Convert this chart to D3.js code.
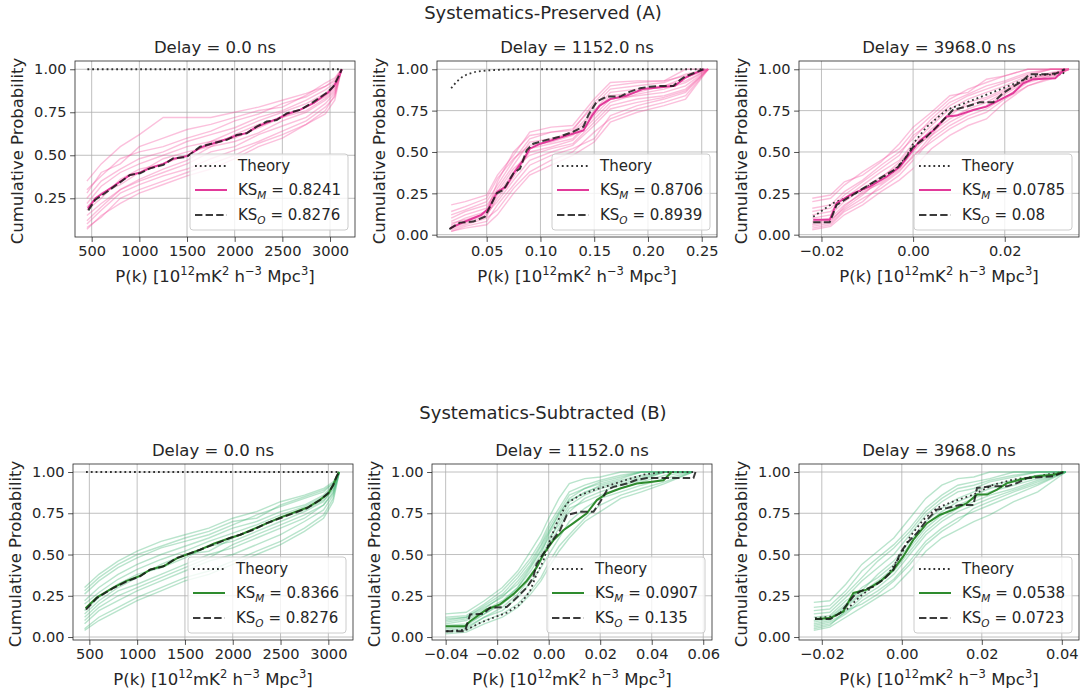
<!DOCTYPE html>
<html>
<head>
<meta charset="utf-8">
<script src="https://cdn.jsdelivr.net/npm/d3@7"></script>
<style>
  html, body { margin: 0; padding: 0; background: #fff; }
  svg text { font-family: "DejaVu Sans", sans-serif; fill: #262626; }
</style>
</head>
<body>
<svg id="fig" width="1083" height="692"></svg>
<script>
// ---------------- data ----------------
const rowTitles = ["Systematics-Preserved (A)", "Systematics-Subtracted (B)"];
const delayTitles = ["Delay = 0.0 ns", "Delay = 1152.0 ns", "Delay = 3968.0 ns"];
const ksModel = ["0.8241", "0.8706", "0.0785", "0.8366", "0.0907", "0.0538"];
const ksObserved = ["0.8276", "0.8939", "0.08", "0.8276", "0.135", "0.0723"];

// tick values
const xTicksA0 = [500, 1000, 1500, 2000, 2500, 3000];
const xTicksA1 = [0.05, 0.10, 0.15, 0.20, 0.25];
const xTicksA2 = [-0.02, 0.00, 0.02];
const xTicksB0 = [500, 1000, 1500, 2000, 2500, 3000];
const xTicksB1 = [-0.04, -0.02, 0.00, 0.02, 0.04, 0.06];
const xTicksB2 = [-0.02, 0.00, 0.02, 0.04];
const yTicksA0 = [0.25, 0.50, 0.75, 1.00];
const yTicksFull = [0.00, 0.25, 0.50, 0.75, 1.00];

// A0: delay 0 ns, systematics preserved
const theoryA0 = [[455, 1.0], [3125, 1.0]];
const modelA0 = [[460,0.19],[540,0.25],[700,0.31],[900,0.385],[1010,0.40],[1110,0.425],[1250,0.45],[1360,0.48],[1500,0.495],[1640,0.545],[1780,0.57],[1920,0.595],[2020,0.615],[2130,0.63],[2230,0.665],[2340,0.69],[2440,0.71],[2550,0.74],[2690,0.765],[2830,0.805],[2980,0.865],[3040,0.90],[3090,0.95],[3125,1.0]];
const obsA0 = [[465,0.18],[535,0.24],[692,0.30],[902,0.386],[1007,0.395],[1112,0.424],[1252,0.444],[1357,0.483],[1497,0.49],[1637,0.55],[1777,0.57],[1917,0.59],[2022,0.618],[2126,0.628],[2231,0.667],[2336,0.696],[2441,0.705],[2546,0.744],[2686,0.764],[2826,0.81],[2983,0.87],[3035,0.90],[3088,0.957],[3123,1.0]];
const ensGridA0 = [450, 600, 800, 1000, 1250, 1500, 1750, 2000, 2250, 2500, 2750, 2950, 3050, 3120];
const ensA0 = [
  [0.07,0.15,0.22,0.28,0.33,0.38,0.42,0.48,0.55,0.60,0.68,0.76,0.85,1.0],
  [0.35,0.45,0.55,0.62,0.72,0.72,0.72,0.75,0.78,0.82,0.86,0.90,0.93,1.0],
  [0.12,0.20,0.30,0.35,0.40,0.45,0.52,0.55,0.62,0.67,0.72,0.80,0.86,1.0],
  [0.25,0.35,0.42,0.48,0.52,0.58,0.62,0.66,0.72,0.76,0.82,0.88,0.92,1.0],
  [0.10,0.18,0.28,0.33,0.38,0.42,0.48,0.53,0.58,0.64,0.70,0.78,0.84,1.0],
  [0.30,0.38,0.48,0.52,0.55,0.60,0.64,0.70,0.74,0.80,0.84,0.90,0.94,1.0],
  [0.20,0.28,0.33,0.40,0.48,0.52,0.55,0.62,0.68,0.72,0.76,0.83,0.88,1.0],
  [0.15,0.22,0.30,0.36,0.42,0.47,0.55,0.58,0.63,0.70,0.75,0.82,0.87,1.0],
  [0.22,0.32,0.40,0.45,0.50,0.55,0.58,0.64,0.70,0.75,0.80,0.86,0.91,1.0],
  [0.08,0.14,0.25,0.30,0.35,0.40,0.45,0.50,0.57,0.62,0.68,0.74,0.82,1.0],
  [0.28,0.40,0.45,0.55,0.60,0.65,0.68,0.72,0.76,0.78,0.85,0.92,0.95,1.0],
  [0.18,0.25,0.36,0.42,0.45,0.50,0.58,0.60,0.66,0.72,0.78,0.84,0.89,1.0]
];

// A1: delay 1152 ns, systematics preserved
const theoryA1 = [[0.017,0.885],[0.022,0.925],[0.027,0.952],[0.032,0.97],[0.04,0.985],[0.05,0.993],[0.065,0.998],[0.08,1.0],[0.2515,1.0]];
const modelA1 = [[0.016,0.04],[0.03,0.08],[0.045,0.12],[0.052,0.16],[0.06,0.26],[0.068,0.29],[0.076,0.38],[0.084,0.45],[0.09,0.52],[0.10,0.55],[0.115,0.58],[0.13,0.61],[0.14,0.63],[0.148,0.72],[0.155,0.78],[0.165,0.82],[0.18,0.84],[0.195,0.88],[0.21,0.89],[0.225,0.90],[0.235,0.95],[0.245,0.98],[0.2525,1.0]];
const obsA1 = [[0.0153,0.034],[0.025,0.073],[0.0376,0.079],[0.0484,0.109],[0.0515,0.149],[0.0593,0.25],[0.0655,0.27],[0.0748,0.37],[0.081,0.40],[0.0872,0.51],[0.0934,0.55],[0.1058,0.573],[0.118,0.593],[0.1306,0.623],[0.14,0.653],[0.1446,0.724],[0.1523,0.804],[0.1616,0.835],[0.174,0.835],[0.1833,0.865],[0.1926,0.885],[0.202,0.895],[0.2112,0.899],[0.2236,0.899],[0.2298,0.935],[0.2345,0.956],[0.2422,0.976],[0.2515,1.0]];
const ensGridA1 = [0.017, 0.03, 0.05, 0.06, 0.075, 0.09, 0.11, 0.13, 0.15, 0.165, 0.19, 0.215, 0.235, 0.256];
const ensA1 = [
  [0.02,0.05,0.08,0.18,0.30,0.42,0.48,0.52,0.58,0.72,0.78,0.82,0.86,1.0],
  [0.18,0.20,0.24,0.36,0.48,0.62,0.65,0.66,0.82,0.92,0.93,0.93,1.0,1.0],
  [0.05,0.08,0.12,0.22,0.35,0.50,0.53,0.57,0.70,0.80,0.85,0.88,0.92,1.0],
  [0.08,0.12,0.16,0.28,0.42,0.56,0.58,0.62,0.75,0.86,0.88,0.90,0.95,1.0],
  [0.03,0.06,0.10,0.15,0.28,0.38,0.45,0.50,0.62,0.70,0.76,0.80,0.84,1.0],
  [0.12,0.15,0.20,0.30,0.45,0.58,0.62,0.64,0.78,0.88,0.90,0.92,0.97,1.0],
  [0.04,0.07,0.11,0.24,0.38,0.52,0.55,0.58,0.72,0.82,0.84,0.86,0.90,1.0],
  [0.10,0.14,0.18,0.26,0.40,0.48,0.52,0.55,0.68,0.78,0.82,0.84,0.88,1.0],
  [0.06,0.10,0.14,0.32,0.50,0.60,0.62,0.63,0.80,0.90,0.92,0.93,0.96,1.0],
  [0.02,0.04,0.06,0.12,0.25,0.36,0.42,0.48,0.56,0.68,0.74,0.78,0.82,1.0],
  [0.14,0.17,0.22,0.34,0.46,0.54,0.56,0.60,0.74,0.84,0.86,0.90,0.93,1.0],
  [0.07,0.09,0.13,0.20,0.33,0.45,0.50,0.54,0.66,0.76,0.80,0.83,0.87,1.0]
];

// A2: delay 3968 ns, systematics preserved
const theoryA2 = [[-0.0218,0.109],[-0.0175,0.19],[-0.0131,0.24],[-0.0087,0.31],[-0.0044,0.38],[-0.0015,0.47],[0,0.55],[0.0029,0.65],[0.0073,0.754],[0.0131,0.815],[0.0196,0.885],[0.024,0.935],[0.0276,0.966],[0.0327,0.97],[0.0331,1.0]];
const modelA2 = [[-0.0218,0.09],[-0.0182,0.09],[-0.0167,0.19],[-0.0131,0.25],[-0.0095,0.29],[-0.0058,0.35],[-0.0029,0.41],[-0.0007,0.49],[0.0015,0.57],[0.0044,0.63],[0.0073,0.714],[0.0095,0.72],[0.0131,0.754],[0.016,0.774],[0.0189,0.815],[0.0218,0.855],[0.024,0.915],[0.0262,0.94],[0.031,0.945],[0.0331,1.0]];
const obsA2 = [[-0.0218,0.075],[-0.0182,0.075],[-0.0167,0.18],[-0.0138,0.23],[-0.0109,0.28],[-0.0073,0.34],[-0.0036,0.40],[-0.0015,0.47],[0,0.53],[0.0029,0.59],[0.0058,0.67],[0.0087,0.754],[0.0116,0.774],[0.0145,0.80],[0.0175,0.80],[0.0196,0.855],[0.0218,0.895],[0.0236,0.925],[0.0255,0.97],[0.0291,0.97],[0.0313,0.976],[0.0331,1.0]];
const ensGridA2 = [-0.022, -0.018, -0.015, -0.011, -0.007, -0.003, 0, 0.004, 0.008, 0.012, 0.016, 0.02, 0.025, 0.03, 0.034];
const ensA2 = [
  [0.03,0.05,0.12,0.18,0.26,0.33,0.40,0.52,0.60,0.66,0.70,0.80,0.90,0.95,1.0],
  [0.20,0.22,0.30,0.38,0.45,0.52,0.62,0.72,0.82,0.88,0.92,0.96,1.0,1.0,1.0],
  [0.08,0.10,0.18,0.25,0.32,0.40,0.50,0.62,0.70,0.76,0.80,0.86,0.94,0.97,1.0],
  [0.12,0.14,0.22,0.30,0.38,0.45,0.55,0.66,0.76,0.82,0.86,0.90,0.96,1.0,1.0],
  [0.05,0.07,0.15,0.22,0.28,0.36,0.45,0.58,0.66,0.72,0.76,0.83,0.92,0.96,1.0],
  [0.16,0.18,0.26,0.33,0.42,0.50,0.58,0.70,0.80,0.85,0.90,0.93,0.98,1.0,1.0],
  [0.10,0.12,0.20,0.28,0.35,0.42,0.52,0.64,0.72,0.80,0.83,0.88,0.95,0.98,1.0],
  [0.04,0.06,0.14,0.20,0.30,0.38,0.48,0.56,0.64,0.70,0.74,0.82,0.90,0.94,1.0],
  [0.14,0.16,0.24,0.32,0.40,0.48,0.60,0.68,0.78,0.84,0.88,0.92,0.97,1.0,1.0],
  [0.07,0.09,0.16,0.24,0.34,0.44,0.53,0.60,0.68,0.74,0.78,0.85,0.93,0.96,1.0],
  [0.22,0.24,0.32,0.36,0.44,0.55,0.65,0.74,0.84,0.86,0.94,0.96,1.0,1.0,1.0],
  [0.06,0.08,0.17,0.26,0.31,0.39,0.47,0.60,0.74,0.78,0.82,0.87,0.94,0.97,1.0]
];

// B0: delay 0 ns, systematics subtracted
const theoryB0 = [[465, 1.0], [3115, 1.0]];
const modelB0 = [[460,0.175],[580,0.24],[750,0.30],[890,0.34],[1030,0.37],[1140,0.41],[1280,0.43],[1410,0.475],[1520,0.50],[1660,0.53],[1800,0.565],[1970,0.60],[2080,0.62],[2220,0.655],[2360,0.69],[2500,0.725],[2640,0.755],[2780,0.785],[2910,0.83],[3000,0.87],[3050,0.92],[3090,0.975],[3110,1.0]];
const obsB0 = [[465,0.166],[577,0.236],[751,0.297],[890,0.337],[1030,0.368],[1135,0.408],[1274,0.428],[1413,0.479],[1518,0.499],[1658,0.529],[1797,0.56],[1971,0.60],[2076,0.62],[2216,0.65],[2355,0.69],[2495,0.72],[2634,0.75],[2774,0.78],[2913,0.83],[3000,0.873],[3052,0.923],[3087,0.974],[3115,1.0]];
const ensGridB0 = [450, 600, 800, 1000, 1250, 1500, 1750, 2000, 2250, 2500, 2750, 2950, 3050, 3115];
const ensB0 = [
  [0.05,0.12,0.18,0.24,0.30,0.36,0.40,0.46,0.52,0.58,0.66,0.74,0.84,1.0],
  [0.30,0.38,0.46,0.52,0.58,0.62,0.66,0.72,0.76,0.82,0.86,0.90,0.94,1.0],
  [0.12,0.20,0.28,0.32,0.38,0.44,0.50,0.54,0.60,0.66,0.72,0.80,0.88,1.0],
  [0.22,0.30,0.38,0.44,0.50,0.55,0.60,0.66,0.70,0.76,0.80,0.86,0.92,1.0],
  [0.08,0.16,0.22,0.28,0.34,0.40,0.46,0.50,0.56,0.62,0.70,0.77,0.86,1.0],
  [0.26,0.34,0.42,0.48,0.54,0.58,0.62,0.68,0.74,0.79,0.84,0.88,0.93,1.0],
  [0.16,0.24,0.32,0.38,0.42,0.48,0.55,0.58,0.64,0.70,0.76,0.82,0.90,1.0],
  [0.10,0.18,0.25,0.30,0.36,0.42,0.48,0.56,0.62,0.68,0.74,0.80,0.87,1.0],
  [0.20,0.27,0.35,0.41,0.47,0.52,0.58,0.63,0.68,0.74,0.79,0.85,0.91,1.0],
  [0.14,0.22,0.30,0.36,0.44,0.50,0.52,0.60,0.66,0.72,0.77,0.83,0.89,1.0],
  [0.04,0.10,0.16,0.22,0.28,0.34,0.38,0.44,0.50,0.56,0.64,0.72,0.82,1.0],
  [0.28,0.36,0.44,0.50,0.55,0.60,0.64,0.70,0.72,0.80,0.85,0.89,0.93,1.0]
];

// B1: delay 1152 ns, systematics subtracted
const theoryB1 = [[-0.0396,0.035],[-0.0318,0.045],[-0.0266,0.086],[-0.0215,0.117],[-0.0163,0.147],[-0.0111,0.198],[-0.0072,0.28],[-0.0047,0.38],[-0.0021,0.46],[0,0.565],[0.0031,0.69],[0.007,0.81],[0.0122,0.86],[0.0174,0.89],[0.0238,0.92],[0.0303,0.953],[0.0368,0.984],[0.0433,0.998],[0.057,1.0]];
const modelB1 = [[-0.04,0.066],[-0.0325,0.066],[-0.0305,0.096],[-0.0241,0.167],[-0.0189,0.198],[-0.0137,0.26],[-0.0085,0.34],[-0.0047,0.42],[-0.0021,0.50],[0.0018,0.586],[0.0057,0.647],[0.0096,0.69],[0.0148,0.75],[0.0187,0.83],[0.0226,0.87],[0.0277,0.90],[0.0342,0.93],[0.0394,0.94],[0.0446,0.95],[0.0477,1.0]];
const obsB1 = [[-0.04,0.035],[-0.0325,0.035],[-0.0305,0.137],[-0.0253,0.141],[-0.0228,0.178],[-0.0163,0.182],[-0.0124,0.239],[-0.0085,0.30],[-0.006,0.36],[-0.0047,0.443],[-0.0021,0.504],[0.0005,0.565],[0.0044,0.647],[0.007,0.739],[0.0122,0.759],[0.0174,0.759],[0.02,0.82],[0.0226,0.89],[0.0251,0.91],[0.0303,0.93],[0.0342,0.953],[0.0381,0.963],[0.0562,0.963],[0.057,1.0]];
const ensGridB1 = [-0.04, -0.032, -0.025, -0.018, -0.012, -0.007, -0.003, 0, 0.004, 0.008, 0.014, 0.02, 0.028, 0.036, 0.045, 0.056];
const ensB1 = [
  [0.03,0.04,0.10,0.14,0.20,0.28,0.36,0.45,0.55,0.62,0.72,0.80,0.86,0.90,0.94,1.0],
  [0.14,0.15,0.22,0.30,0.40,0.52,0.62,0.72,0.84,0.93,0.96,0.97,1.0,1.0,1.0,1.0],
  [0.07,0.08,0.14,0.20,0.28,0.38,0.46,0.56,0.66,0.76,0.84,0.88,0.92,0.95,1.0,1.0],
  [0.10,0.12,0.18,0.24,0.34,0.44,0.55,0.64,0.74,0.84,0.90,0.93,0.96,1.0,1.0,1.0],
  [0.05,0.06,0.12,0.16,0.24,0.33,0.42,0.50,0.60,0.70,0.78,0.84,0.88,0.92,0.96,1.0],
  [0.12,0.13,0.20,0.28,0.38,0.48,0.58,0.68,0.78,0.88,0.92,0.95,0.98,1.0,1.0,1.0],
  [0.04,0.05,0.12,0.18,0.26,0.36,0.48,0.58,0.70,0.80,0.86,0.90,0.93,0.96,1.0,1.0],
  [0.08,0.10,0.16,0.22,0.30,0.40,0.50,0.62,0.72,0.82,0.88,0.91,0.94,0.97,1.0,1.0],
  [0.02,0.03,0.08,0.12,0.18,0.26,0.34,0.42,0.52,0.60,0.70,0.76,0.84,0.88,0.93,1.0],
  [0.11,0.12,0.19,0.26,0.36,0.46,0.56,0.66,0.76,0.86,0.90,0.94,0.97,1.0,1.0,1.0],
  [0.06,0.07,0.14,0.21,0.30,0.42,0.52,0.60,0.68,0.78,0.82,0.86,0.90,0.94,0.98,1.0],
  [0.09,0.11,0.17,0.25,0.32,0.43,0.53,0.63,0.75,0.83,0.87,0.92,0.95,0.98,1.0,1.0]
];

// B2: delay 3968 ns, systematics subtracted
const theoryB2 = [[-0.0217,0.115],[-0.0171,0.125],[-0.0138,0.166],[-0.0104,0.247],[-0.0071,0.307],[-0.0038,0.368],[-0.0004,0.49],[0.0021,0.61],[0.0054,0.711],[0.0088,0.782],[0.0129,0.822],[0.0179,0.863],[0.0229,0.923],[0.0279,0.954],[0.0338,0.974],[0.0404,1.0]];
const modelB2 = [[-0.0217,0.109],[-0.0179,0.115],[-0.0146,0.155],[-0.0121,0.267],[-0.0088,0.287],[-0.0054,0.337],[-0.0021,0.408],[0.0004,0.49],[0.0029,0.59],[0.0063,0.69],[0.0096,0.741],[0.0129,0.772],[0.0163,0.812],[0.0188,0.863],[0.0213,0.863],[0.0238,0.893],[0.0263,0.933],[0.0296,0.954],[0.0338,0.974],[0.0379,0.984],[0.0404,1.0]];
const obsB2 = [[-0.0217,0.109],[-0.0179,0.109],[-0.0154,0.145],[-0.0121,0.247],[-0.0104,0.277],[-0.0071,0.307],[-0.0046,0.348],[-0.0021,0.408],[-0.0004,0.509],[0.0013,0.57],[0.0038,0.63],[0.0063,0.711],[0.0088,0.772],[0.0113,0.782],[0.0146,0.80],[0.0179,0.80],[0.0188,0.903],[0.0221,0.913],[0.0263,0.913],[0.0288,0.933],[0.0313,0.964],[0.0379,0.974],[0.0404,1.0]];
const ensGridB2 = [-0.022, -0.018, -0.014, -0.01, -0.006, -0.002, 0.002, 0.006, 0.01, 0.014, 0.018, 0.022, 0.028, 0.034, 0.041];
const ensB2 = [
  [0.04,0.06,0.12,0.18,0.24,0.30,0.40,0.52,0.60,0.65,0.70,0.74,0.82,0.88,1.0],
  [0.21,0.22,0.32,0.44,0.52,0.60,0.72,0.84,0.92,0.96,0.97,1.0,1.0,1.0,1.0],
  [0.08,0.10,0.18,0.26,0.32,0.40,0.52,0.64,0.72,0.78,0.82,0.86,0.90,0.95,1.0],
  [0.14,0.15,0.24,0.34,0.42,0.50,0.62,0.74,0.82,0.88,0.90,0.94,0.97,1.0,1.0],
  [0.06,0.08,0.14,0.22,0.28,0.35,0.46,0.58,0.66,0.72,0.76,0.80,0.86,0.92,1.0],
  [0.18,0.19,0.28,0.40,0.48,0.56,0.66,0.78,0.86,0.92,0.94,0.96,1.0,1.0,1.0],
  [0.10,0.12,0.20,0.30,0.36,0.44,0.56,0.68,0.76,0.82,0.86,0.90,0.94,0.97,1.0],
  [0.12,0.13,0.22,0.28,0.38,0.46,0.58,0.70,0.78,0.84,0.88,0.92,0.95,0.98,1.0],
  [0.05,0.07,0.16,0.20,0.26,0.34,0.44,0.56,0.64,0.70,0.78,0.82,0.88,0.93,1.0],
  [0.16,0.17,0.26,0.36,0.46,0.54,0.64,0.76,0.84,0.90,0.92,0.95,0.98,1.0,1.0],
  [0.09,0.11,0.19,0.27,0.34,0.42,0.54,0.66,0.74,0.80,0.84,0.88,0.92,0.96,1.0],
  [0.07,0.09,0.15,0.24,0.30,0.38,0.50,0.62,0.70,0.76,0.80,0.84,0.89,0.94,1.0]
];

// ---------------- layout & styles ----------------
const palette = {
  A: { main: "#e23a9a", faint: "#f4509f" },
  B: { main: "#2e8b2e", faint: "#3cb371" }
};
const FONT = 14.6;        // tick labels
const LEGEND_FONT = 15;   // legend entries
const LABEL_FONT = 16.5;  // axis labels and titles
const HEAD_FONT = 18;     // row headings

const panels = [
  { row: "A", col: 0, x0: 75,  x1: 355,  y0: 61,  y1: 237, xd: [325, 3262],        yd: [0.025, 1.048],
    xTicks: xTicksA0, yTicks: yTicksA0, xFmt: d3.format("d"),
    theory: theoryA0, model: modelA0, obs: obsA0, grid: ensGridA0, members: ensA0 },
  { row: "A", col: 1, x0: 437, x1: 717,  y0: 61,  y1: 237, xd: [0.0038, 0.2642],   yd: [-0.014, 1.05],
    xTicks: xTicksA1, yTicks: yTicksFull, xFmt: d3.format(".2f"),
    theory: theoryA1, model: modelA1, obs: obsA1, grid: ensGridA1, members: ensA1 },
  { row: "A", col: 2, x0: 799, x1: 1079, y0: 61,  y1: 237, xd: [-0.0249, 0.0362],  yd: [-0.014, 1.05],
    xTicks: xTicksA2, yTicks: yTicksFull, xFmt: d3.format(".2f"),
    theory: theoryA2, model: modelA2, obs: obsA2, grid: ensGridA2, members: ensA2 },
  { row: "B", col: 0, x0: 73,  x1: 353,  y0: 464, y1: 640, xd: [329, 3258],        yd: [-0.018, 1.0485],
    xTicks: xTicksB0, yTicks: yTicksFull, xFmt: d3.format("d"),
    theory: theoryB0, model: modelB0, obs: obsB0, grid: ensGridB0, members: ensB0 },
  { row: "B", col: 1, x0: 432, x1: 712,  y0: 464, y1: 640, xd: [-0.0453, 0.0634],  yd: [-0.018, 1.0485],
    xTicks: xTicksB1, yTicks: yTicksFull, xFmt: d3.format(".2f"),
    theory: theoryB1, model: modelB1, obs: obsB1, grid: ensGridB1, members: ensB1 },
  { row: "B", col: 2, x0: 799, x1: 1079, y0: 464, y1: 640, xd: [-0.0257, 0.0443],  yd: [-0.018, 1.0485],
    xTicks: xTicksB2, yTicks: yTicksFull, xFmt: d3.format(".2f"),
    theory: theoryB2, model: modelB2, obs: obsB2, grid: ensGridB2, members: ensB2 }
];

const THEORY_STYLE = { stroke: "#333333", width: 1.8, dash: "1.8,3" };

const svg = d3.select("#fig");
const defs = svg.append("defs");

// row headings
svg.append("text").attr("x", 543).attr("y", 19).attr("text-anchor", "middle")
  .attr("font-size", HEAD_FONT).text(rowTitles[0]);
svg.append("text").attr("x", 543).attr("y", 419).attr("text-anchor", "middle")
  .attr("font-size", HEAD_FONT).text(rowTitles[1]);

// P(k) [10^12 mK^2 h^-3 Mpc^3] with raised exponents
function addPkLabel(sel) {
  const sup = (t) => sel.append("tspan").attr("dy", -7).attr("font-size", 11.5).text(t);
  const base = (t) => sel.append("tspan").attr("dy", 7).text(t);
  sel.append("tspan").text("P(k) [10");
  sup("12"); base("mK");
  sup("2"); base(" h");
  sup("\u22123"); base(" Mpc");
  sup("3"); base("]");
}

// KS label with italic subscript
function addKsLabel(sel, sub, value) {
  sel.append("tspan").text("KS");
  sel.append("tspan").attr("dy", 3.5).attr("font-size", 10.5).attr("font-style", "italic").text(sub);
  sel.append("tspan").attr("dy", -3.5).text(" = " + value);
}

panels.forEach((p, i) => {
  const col = palette[p.row];
  const x = d3.scaleLinear().domain(p.xd).range([p.x0, p.x1]);
  const y = d3.scaleLinear().domain(p.yd).range([p.y1, p.y0]);
  const g = svg.append("g");

  const clipId = "plotclip" + i;
  defs.append("clipPath").attr("id", clipId).append("rect")
    .attr("x", p.x0).attr("y", p.y0).attr("width", p.x1 - p.x0).attr("height", p.y1 - p.y0);

  // grid
  const grid = g.append("g").attr("stroke", "#b0b0b0").attr("stroke-width", 0.8);
  grid.selectAll("line.vx").data(p.xTicks).join("line").attr("class", "vx")
    .attr("x1", d => x(d)).attr("x2", d => x(d)).attr("y1", p.y0).attr("y2", p.y1);
  grid.selectAll("line.hy").data(p.yTicks).join("line").attr("class", "hy")
    .attr("x1", p.x0).attr("x2", p.x1).attr("y1", d => y(d)).attr("y2", d => y(d));

  const plot = g.append("g").attr("clip-path", `url(#${clipId})`);
  const line = d3.line().x(d => x(d[0])).y(d => y(d[1]));

  // ensemble of realisation CDFs
  plot.selectAll("path.member").data(p.members).join("path").attr("class", "member")
    .attr("d", m => line(p.grid.map((gx, k) => [gx, m[k]])))
    .attr("fill", "none").attr("stroke", col.faint)
    .attr("stroke-opacity", 0.36).attr("stroke-width", 1.4);

  // theory CDF
  plot.append("path").attr("d", line(p.theory)).attr("fill", "none")
    .attr("stroke", THEORY_STYLE.stroke).attr("stroke-width", THEORY_STYLE.width)
    .attr("stroke-dasharray", THEORY_STYLE.dash);
  // model (median) CDF
  plot.append("path").attr("d", line(p.model)).attr("fill", "none")
    .attr("stroke", col.main).attr("stroke-width", 2);
  // observed CDF
  plot.append("path").attr("d", line(p.obs)).attr("fill", "none")
    .attr("stroke", "#1a1a1a").attr("stroke-opacity", 0.85)
    .attr("stroke-width", 2).attr("stroke-dasharray", "7.4,3.2");

  // axes
  const xAxis = g.append("g").attr("transform", `translate(0,${p.y1})`)
    .call(d3.axisBottom(x).tickValues(p.xTicks).tickFormat(p.xFmt).tickSize(4.9).tickPadding(3.5).tickSizeOuter(0));
  const yAxis = g.append("g").attr("transform", `translate(${p.x0},0)`)
    .call(d3.axisLeft(y).tickValues(p.yTicks).tickFormat(d3.format(".2f")).tickSize(4.9).tickPadding(3.5).tickSizeOuter(0));
  [xAxis, yAxis].forEach(a => {
    a.attr("font-size", FONT).attr("font-family", null);
    a.select(".domain").remove();
    a.selectAll(".tick line").attr("stroke", "#262626").attr("stroke-width", 0.8);
    a.selectAll(".tick text").attr("fill", "#262626");
  });

  // frame
  g.append("rect").attr("x", p.x0).attr("y", p.y0)
    .attr("width", p.x1 - p.x0).attr("height", p.y1 - p.y0)
    .attr("fill", "none").attr("stroke", "#262626").attr("stroke-width", 0.8);

  // titles and labels
  g.append("text").attr("x", (p.x0 + p.x1) / 2).attr("y", p.y0 - 8)
    .attr("text-anchor", "middle").attr("font-size", LABEL_FONT).text(delayTitles[p.col]);
  addPkLabel(g.append("text").attr("x", (p.x0 + p.x1) / 2).attr("y", p.y1 + 45)
    .attr("text-anchor", "middle").attr("font-size", LABEL_FONT));
  g.append("text")
    .attr("transform", `translate(${p.x0 - 58},${(p.y0 + p.y1) / 2 + 2}) rotate(-90)`)
    .attr("text-anchor", "middle").attr("dy", "0.35em").attr("font-size", LABEL_FONT)
    .text("Cumulative Probability");

  // legend
  const lw = 158, lh = 76;
  const lg = g.append("g").attr("transform", `translate(${p.x1 - 7 - lw},${p.y1 - 7 - lh})`);
  lg.append("rect").attr("width", lw).attr("height", lh).attr("rx", 3)
    .attr("fill", "#fff").attr("fill-opacity", 0.8).attr("stroke", "#cccccc").attr("stroke-width", 1);
  const rows = [12, 36, 61];
  lg.append("line").attr("x1", 5).attr("x2", 37).attr("y1", rows[0]).attr("y2", rows[0])
    .attr("stroke", THEORY_STYLE.stroke).attr("stroke-width", THEORY_STYLE.width)
    .attr("stroke-dasharray", THEORY_STYLE.dash);
  lg.append("line").attr("x1", 5).attr("x2", 37).attr("y1", rows[1]).attr("y2", rows[1])
    .attr("stroke", col.main).attr("stroke-width", 2);
  lg.append("line").attr("x1", 5).attr("x2", 37).attr("y1", rows[2]).attr("y2", rows[2])
    .attr("stroke", "#1a1a1a").attr("stroke-opacity", 0.85).attr("stroke-width", 2).attr("stroke-dasharray", "7.4,3.2");
  lg.append("text").attr("x", 48).attr("y", rows[0]).attr("dy", "0.35em").attr("font-size", LEGEND_FONT).text("Theory");
  addKsLabel(lg.append("text").attr("x", 48).attr("y", rows[1]).attr("dy", "0.35em").attr("font-size", LEGEND_FONT), "M", ksModel[i]);
  addKsLabel(lg.append("text").attr("x", 48).attr("y", rows[2]).attr("dy", "0.35em").attr("font-size", LEGEND_FONT), "O", ksObserved[i]);
});
</script>
</body>
</html>
